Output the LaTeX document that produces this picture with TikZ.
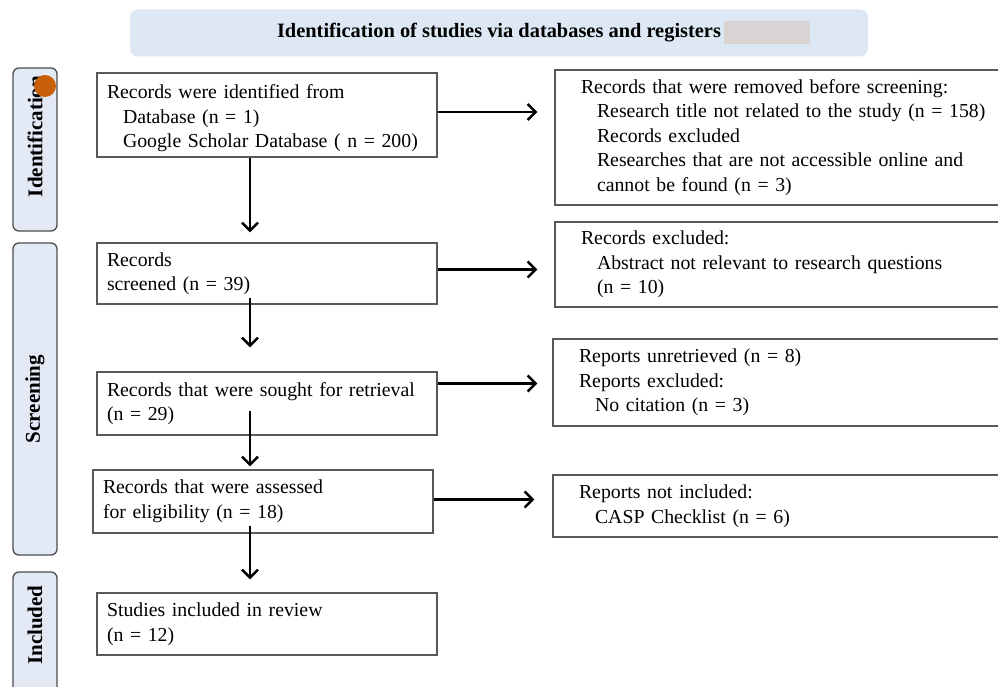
\documentclass[tikz,border=0pt]{standalone}
\usepackage{fontspec}
\setmainfont{Liberation Serif}
\usetikzlibrary{arrows.meta}
\definecolor{barblue}{HTML}{E3EAF6}
\definecolor{headblue}{HTML}{DEE8F5}
\definecolor{hidegrey}{HTML}{D9D3D3}
\definecolor{dotorange}{HTML}{C8600A}
\tikzset{arrowout/.style={-{Straight Barb[length=8pt,width=16pt]},line width=2.4pt},
stage/.style={rectangle,rounded corners=6pt,draw=black!70,fill=barblue,line width=1.3pt,rotate=90,minimum height=44pt,inner sep=0pt,font=\fontsize{21}{24}\selectfont\bfseries},
box/.style={rectangle,draw=black!65,line width=1.3pt,minimum width=340pt,inner xsep=10pt,text width=320pt,align=left,font=\fontsize{19.8}{24.5}\selectfont},
sidebox/.style={rectangle,draw=black!65,line width=1.3pt,minimum width=490pt,inner xsep=26pt,text width=438pt,align=left,font=\fontsize{19.8}{24.5}\selectfont},
titlebox/.style={rectangle,rounded corners=8pt,fill=headblue,minimum width=738pt,minimum height=47pt,font=\fontsize{20.4}{24}\selectfont\bfseries},
redact/.style={rectangle,fill=hidegrey,minimum width=86pt,minimum height=23pt,inner sep=0pt},
dot/.style={circle,fill=dotorange,minimum size=22pt,inner sep=0pt}}

\begin{document}
\begin{tikzpicture}[x=1pt,y=-1pt]
\clip (0,0) rectangle (998,687);
\fill[white] (0,0) rectangle (998,687);

%heading
\node[titlebox] (title) at (499,33) {Identification of studies via databases and registers};
\node[redact] (hidden) at (767,33) {};

%stages
\node[stage,minimum width=163pt] (idbar) at (35,149.5) {\hspace*{26pt}Identification};
\node[dot] (mark) at (45,86) {};
\node[stage,minimum width=312pt] (scrbar) at (35,399) {Screening};
\node[stage,minimum width=128pt] (incbar) at (35,636) {\hspace*{22pt}Included};

%left column
\node[box,inner ysep=0pt,minimum height=84pt] (ident) at (267,115) {\parbox[c][84pt][t]{320pt}{\vspace*{12pt}Records were identified from\\
  \hspace*{16pt}Database (n = 1)\\
  \hspace*{16pt}Google Scholar Database ( n = 200)}};
\node[box,minimum height=61pt] (scr) at (267,273.5) {Records\\screened (n = 39)};
\node[box,minimum height=63pt] (sought) at (267,403.5) {Records that were sought for retrieval\\(n = 29)};
\node[box,minimum height=63pt] (assess) at (263,501.5) {Records that were assessed\\for eligibility (n = 18)};
\node[box,minimum height=62pt] (incl) at (267,624) {Studies included in review\\(n = 12)};

%right column
\node[sidebox,minimum height=135pt] (removed) at (800,137.5) {Records that were removed before screening:\\
  \hspace*{16pt}Research title not related to the study (n = 158)\\
  \hspace*{16pt}Records excluded\\
  \hspace*{16pt}Researches that are not accessible online and\\
  \hspace*{16pt}cannot be found (n = 3)};
\node[sidebox,minimum height=85pt] (excl) at (800,264.5) {Records excluded:\\
  \hspace*{16pt}Abstract not relevant to research questions\\
  \hspace*{16pt}(n = 10)};
\node[sidebox,minimum height=87pt] (unret) at (798,382.5) {Reports unretrieved (n = 8)\\
  Reports excluded:\\
  \hspace*{16pt}No citation (n = 3)};
\node[sidebox,minimum height=62pt] (notinc) at (798,506) {Reports not included:\\
  \hspace*{16pt}CASP Checklist (n = 6)};

%arrows down
\draw[arrowout] ([xshift=-17pt]ident.south) -- ([xshift=-17pt,yshift=10pt]scr.north);
\draw[arrowout] ([xshift=-17pt,yshift=7pt]scr.south) -- ([xshift=-17pt,yshift=24pt]sought.north);
\draw[arrowout] ([xshift=-17pt,yshift=25pt]sought.south) -- ([xshift=-13pt,yshift=3pt]assess.north);
\draw[arrowout] ([xshift=-13pt,yshift=8pt]assess.south) -- ([xshift=-17pt,yshift=13pt]incl.north);

%arrows across
\draw[arrowout,shorten >=17pt] ([yshift=3pt]ident.east) -- ([yshift=3pt]ident.east -| removed.west);
\draw[arrowout,shorten >=17pt] ([yshift=4pt]scr.east) -- ([yshift=4pt]scr.east -| excl.west);
\draw[arrowout,shorten >=15pt] ([yshift=20pt]sought.east) -- ([yshift=20pt]sought.east -| unret.west);
\draw[arrowout,shorten >=18pt] ([yshift=2pt]assess.east) -- ([yshift=2pt]assess.east -| notinc.west);

\end{tikzpicture}
\end{document}
